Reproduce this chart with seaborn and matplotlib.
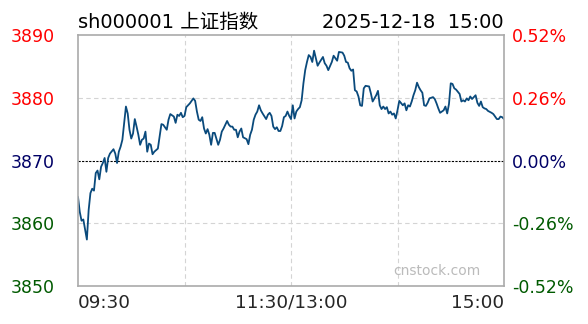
import matplotlib
matplotlib.use("Agg")
import matplotlib.pyplot as plt
import seaborn as sns
import pandas as pd

title_left = "sh000001 上证指数"
title_right = "2025-12-18  15:00"
prev_close = 3870
y_ticks = [3850, 3860, 3870, 3880, 3890]
y_tick_labels = ["3850", "3860", "3870", "3880", "3890"]
pct_labels = ["-0.52%", "-0.26%", "0.00%", "0.26%", "0.52%"]
x_ticks = [0, 120, 240]
x_tick_labels = ["09:30", "11:30/13:00", "15:00"]
watermark = "cnstock.com"

minutes = [0, 1, 2, 3, 5, 6, 7, 8, 9, 10, 11, 12, 13, 14, 15, 16, 17, 18, 20, 21,
           22, 23, 24, 25, 26, 27, 28, 29, 30, 31, 32, 33, 34, 35, 36, 37, 38, 39, 40, 41,
           42, 43, 45, 46, 47, 48, 50, 51, 52, 54, 55, 56, 57, 58, 59, 60, 61, 63, 65, 66,
           67, 68, 69, 70, 71, 72, 73, 74, 75, 76, 77, 79, 80, 81, 82, 84, 85, 86, 87, 88,
           89, 90, 91, 92, 93, 95, 96, 97, 98, 99, 100, 101, 102, 103, 104, 106, 107, 108, 109, 110,
           111, 112, 113, 114, 115, 116, 117, 118, 119, 120, 121, 122, 123, 124, 125, 126, 127, 128, 129, 130,
           131, 132, 133, 134, 135, 136, 138, 139, 140, 141, 143, 144, 145, 146, 147, 149, 150, 151, 152, 153,
           154, 155, 156, 157, 158, 159, 160, 161, 162, 164, 165, 166, 167, 168, 169, 170, 171, 172, 173, 174,
           175, 176, 177, 178, 179, 180, 181, 183, 184, 185, 186, 187, 188, 189, 190, 191, 192, 193, 194, 195,
           196, 197, 198, 200, 201, 202, 203, 204, 206, 207, 208, 209, 210, 211, 212, 213, 215, 216, 217, 218,
           219, 220, 221, 222, 224, 225, 226, 227, 228, 229, 230, 231, 233, 234, 235, 236, 237, 238, 239, 240]

prices = [3864.2, 3861.8, 3860.4, 3860.6, 3857.4, 3862.1, 3864.8, 3865.5, 3865.2, 3868.0,
          3868.4, 3867.0, 3869.0, 3869.6, 3870.4, 3868.2, 3870.4, 3871.1, 3871.8, 3871.1,
          3869.6, 3871.4, 3872.2, 3873.3, 3875.9, 3878.6, 3877.5, 3874.9, 3873.5, 3874.3,
          3876.6, 3875.4, 3874.1, 3872.5, 3873.3, 3873.5, 3874.6, 3871.4, 3872.7, 3872.5,
          3871.0, 3871.4, 3871.9, 3873.8, 3875.8, 3875.7, 3874.9, 3876.5, 3877.4, 3877.0,
          3876.0, 3877.3, 3877.1, 3877.6, 3876.9, 3877.1, 3878.5, 3879.1, 3879.9, 3879.5,
          3877.8, 3876.5, 3876.3, 3876.9, 3875.1, 3874.3, 3875.0, 3874.1, 3872.5, 3874.4,
          3874.4, 3872.5, 3873.3, 3874.6, 3875.1, 3876.3, 3875.7, 3875.4, 3875.4, 3874.9,
          3874.9, 3873.7, 3874.6, 3875.1, 3873.7, 3873.4, 3872.6, 3874.1, 3874.9, 3876.5,
          3877.3, 3877.8, 3878.8, 3878.0, 3877.5, 3876.6, 3877.3, 3877.6, 3877.1, 3875.4,
          3875.0, 3875.3, 3874.7, 3874.7, 3875.5, 3876.9, 3877.1, 3877.8, 3877.1, 3876.6,
          3878.8, 3876.7, 3877.8, 3878.2, 3878.5, 3879.6, 3882.3, 3884.4, 3885.7, 3886.8,
          3886.5, 3885.7, 3887.5, 3886.3, 3885.1, 3885.6, 3886.5, 3885.5, 3885.1, 3884.4,
          3885.7, 3886.7, 3886.3, 3885.9, 3887.3, 3887.2, 3886.7, 3885.7, 3885.6, 3884.7,
          3884.3, 3884.5, 3881.2, 3881.0, 3880.2, 3878.8, 3878.7, 3881.5, 3881.9, 3881.8,
          3880.7, 3879.4, 3879.9, 3880.4, 3881.1, 3878.8, 3878.2, 3878.6, 3878.2, 3878.5,
          3877.5, 3877.8, 3877.3, 3877.5, 3876.7, 3878.0, 3879.5, 3878.8, 3879.1, 3878.0,
          3878.8, 3878.6, 3879.4, 3880.4, 3881.2, 3882.4, 3881.7, 3881.2, 3880.8, 3878.8,
          3878.7, 3879.2, 3879.9, 3880.1, 3879.8, 3879.1, 3878.3, 3877.6, 3878.0, 3878.6,
          3877.5, 3879.0, 3882.3, 3882.2, 3881.5, 3881.3, 3880.6, 3879.4, 3879.6, 3879.4,
          3879.9, 3879.6, 3880.2, 3879.8, 3880.4, 3879.2, 3878.7, 3879.4, 3878.5, 3878.3,
          3878.2, 3877.9, 3877.6, 3877.4, 3877.0, 3876.6, 3876.6, 3877.0, 3876.9, 3876.6]

df = pd.DataFrame({"minute": minutes, "price": prices})

sns.set_style("white")
plt.rcParams["font.family"] = ["DejaVu Sans", "Noto Sans CJK SC"]

RED = "#ff0000"
NAVY = "#000066"
GREEN = "#005a00"
label_colors = [GREEN, GREEN, NAVY, RED, RED]

fig = plt.figure(figsize=(5.88, 3.24), dpi=100)
ax = fig.add_axes([78 / 588, 1 - 286 / 324, 426 / 588, 251 / 324])

sns.lineplot(data=df, x="minute", y="price", ax=ax, color="#0a4a7c", linewidth=1.3)

ax.set_xlim(0, 240)
ax.set_ylim(3850, 3890)

# grid
for yv in [3860, 3880]:
    ax.axhline(yv, color="#d4d4d4", linewidth=0.8, linestyle=(0, (4, 3)), zorder=0)
for xv in [60, 120, 180]:
    ax.axvline(xv, color="#d4d4d4", linewidth=0.8, linestyle=(0, (4, 3)), zorder=0)
ax.axhline(prev_close, color="black", linewidth=0.8, linestyle=(0, (2, 1.2)), zorder=1)

for s in ax.spines.values():
    s.set_color("#aaaaaa")
    s.set_linewidth(1.2)

ax.set_xlabel("")
ax.set_ylabel("")
ax.set_yticks(y_ticks)
ax.set_yticklabels(y_tick_labels, fontsize=12.5)
ax.tick_params(axis="y", length=0, pad=17)
for lbl, c in zip(ax.get_yticklabels(), label_colors):
    lbl.set_color(c)

ax.set_xticks(x_ticks)
ax.set_xticklabels(x_tick_labels, fontsize=13.3)
ax.tick_params(axis="x", length=0, pad=5.5)
xl = ax.get_xticklabels()
xl[0].set_horizontalalignment("left")
xl[1].set_horizontalalignment("center")
xl[2].set_horizontalalignment("right")

ax2 = ax.twinx()
ax2.set_ylim(3850, 3890)
ax2.set_yticks(y_ticks)
ax2.set_yticklabels(pct_labels, fontsize=12.5)
ax2.tick_params(axis="y", length=0, pad=6)
for lbl, c in zip(ax2.get_yticklabels(), label_colors):
    lbl.set_color(c)
for s in ax2.spines.values():
    s.set_visible(False)

ax.text(0.946, 0.03, watermark, transform=ax.transAxes, ha="right", va="bottom",
        fontsize=10, color="#bbbbbb")

fig.text(78 / 588, 1 - 27.5 / 324, title_left, ha="left", va="baseline",
         fontsize=14, color="black")
fig.text(504 / 588, 1 - 27.5 / 324, title_right, ha="right", va="baseline",
         fontsize=14, color="black")

fig.savefig("out.png", dpi=100)
